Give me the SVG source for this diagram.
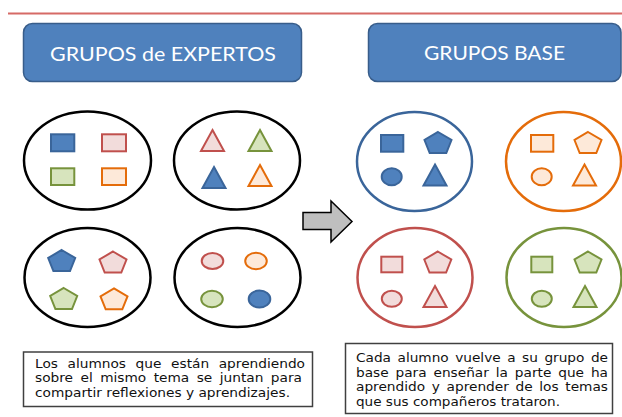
<svg xmlns="http://www.w3.org/2000/svg" xmlns:xlink="http://www.w3.org/1999/xlink" width="622" height="417" viewBox="0 0 622 417">
<style>
.hdr{fill:#4F81BD;stroke:#385D8A;stroke-width:1.5}
.hdrt{font-family:Lato,"Open Sans",sans-serif;font-size:20px;fill:#fff}
.grp{fill:none;stroke-width:2.5}
.blk{stroke:#000}
.sh{stroke-width:2}
.blue{fill:#4F81BD;stroke:#3A659A}
.pink{fill:#F2DCDB;stroke:#C0504D}
.green{fill:#D7E4BD;stroke:#77933C}
.orange{fill:#FDE9D9;stroke:#E46C0A}
.note{fill:#fff;stroke:#404040;stroke-width:1.5}
.nt{font-family:"DejaVu Sans",Verdana,sans-serif;font-size:12px;fill:#111}
</style>
<defs>
<polygon id="pent" points="0,-10.5 13.5,-2.5 8.3,10.5 -8.3,10.5 -13.5,-2.5"/>
<polygon id="tri" points="0,-10.5 11.5,10.5 -11.5,10.5"/>
</defs>
<rect width="622" height="417" fill="#fff"/>
<line x1="8" y1="13.5" x2="622" y2="13.5" stroke="#D66A66" stroke-width="2"/>

<g id="hdr-expertos">
<rect class="hdr" x="23.5" y="23.5" width="278" height="58" rx="9"/>
<text class="hdrt" x="50" y="61" textLength="226" lengthAdjust="spacingAndGlyphs">GRUPOS de EXPERTOS</text>
</g>
<g id="hdr-base">
<rect class="hdr" x="368.5" y="23.5" width="252.5" height="58" rx="9"/>
<text class="hdrt" x="424" y="60" textLength="141" lengthAdjust="spacingAndGlyphs">GRUPOS BASE</text>
</g>

<g id="exp-squares" class="sh">
<ellipse class="grp blk" cx="87.5" cy="160.5" rx="63.5" ry="49"/>
<rect class="blue" x="51" y="134.3" width="23.3" height="17"/>
<rect class="pink" x="102" y="134.3" width="24" height="17"/>
<rect class="green" x="51" y="168.3" width="23.3" height="16.7"/>
<rect class="orange" x="102" y="168.3" width="24" height="16.7"/>
</g>
<g id="exp-triangles" class="sh">
<ellipse class="grp blk" cx="237" cy="160.5" rx="63" ry="49"/>
<use xlink:href="#tri" x="212.5" y="140.5" class="pink"/>
<use xlink:href="#tri" x="260" y="140.5" class="green"/>
<use xlink:href="#tri" x="214" y="177.5" class="blue"/>
<use xlink:href="#tri" x="260" y="175.5" class="orange"/>
</g>
<g id="exp-pentagons" class="sh">
<ellipse class="grp blk" cx="87.5" cy="277.5" rx="63" ry="49.5"/>
<use xlink:href="#pent" x="61.7" y="260.5" class="blue"/>
<use xlink:href="#pent" x="113" y="262" class="pink"/>
<use xlink:href="#pent" x="63.7" y="298.5" class="green"/>
<use xlink:href="#pent" x="114" y="298.8" class="orange"/>
</g>
<g id="exp-circles" class="sh">
<ellipse class="grp blk" cx="237.5" cy="277.5" rx="63" ry="49.5"/>
<ellipse class="pink" cx="212.5" cy="261" rx="10.8" ry="8"/>
<ellipse class="orange" cx="256" cy="261" rx="10.8" ry="8.2"/>
<ellipse class="green" cx="212" cy="299" rx="10.8" ry="8.2"/>
<ellipse class="blue" cx="259.5" cy="299" rx="10.8" ry="8.5"/>
</g>

<g id="connectors">
<polygon points="303,212.5 331,212.5 331,201 352,221.5 331,242 331,229.5 303,229.5" fill="#BFBFBF" stroke="#000" stroke-width="1.5" stroke-linejoin="miter"/>
</g>

<g id="base-blue" class="sh">
<ellipse class="grp" stroke="#3A659A" stroke-width="2" cx="414.5" cy="161.5" rx="57.5" ry="49.5"/>
<rect class="blue" x="381" y="135" width="22.3" height="16.7"/>
<use xlink:href="#pent" x="438" y="142.5" class="blue"/>
<ellipse class="blue" cx="391.7" cy="176.7" rx="10" ry="8.5"/>
<use xlink:href="#tri" x="435" y="175" class="blue"/>
</g>
<g id="base-orange" class="sh">
<ellipse class="grp" stroke="#E46C0A" stroke-width="2" cx="563.5" cy="161.5" rx="57.5" ry="49.5"/>
<rect class="orange" x="531" y="135" width="22.3" height="16.7"/>
<use xlink:href="#pent" x="588" y="142.5" class="orange"/>
<ellipse class="orange" cx="541.7" cy="176.7" rx="10" ry="8.5"/>
<use xlink:href="#tri" x="584.5" y="175" class="orange"/>
</g>
<g id="base-red" class="sh">
<ellipse class="grp" stroke="#C0504D" stroke-width="2" cx="415" cy="277.5" rx="57.5" ry="49.5"/>
<rect class="pink" x="381.3" y="256.7" width="21" height="15.6"/>
<use xlink:href="#pent" x="437.8" y="262" class="pink"/>
<ellipse class="pink" cx="391.8" cy="298.8" rx="10" ry="8"/>
<use xlink:href="#tri" x="435" y="296.5" class="pink"/>
</g>
<g id="base-green" class="sh">
<ellipse class="grp" stroke="#77933C" stroke-width="2" cx="564" cy="277.5" rx="57.5" ry="49.5"/>
<rect class="green" x="531.3" y="256.7" width="21" height="15.6"/>
<use xlink:href="#pent" x="588" y="262" class="green"/>
<ellipse class="green" cx="541.8" cy="298.8" rx="10" ry="8"/>
<use xlink:href="#tri" x="585" y="296.5" class="green"/>
</g>

<g id="note-expertos">
<rect class="note" x="23.5" y="352" width="289" height="54.5"/>
<text class="nt" x="35" y="367.5" textLength="270" lengthAdjust="spacingAndGlyphs" word-spacing="4.6">Los alumnos que están aprendiendo</text>
<text class="nt" x="35" y="382" textLength="267" lengthAdjust="spacingAndGlyphs" word-spacing="2.7">sobre el mismo tema se juntan para</text>
<text class="nt" x="35" y="396.5" textLength="255" lengthAdjust="spacingAndGlyphs">compartir reflexiones y aprendizajes.</text>
</g>
<g id="note-base">
<rect class="note" x="345.5" y="343.5" width="267" height="70"/>
<text class="nt" x="356" y="362" textLength="252" lengthAdjust="spacingAndGlyphs" word-spacing="1.9">Cada alumno vuelve a su grupo de</text>
<text class="nt" x="356" y="376.7" textLength="252" lengthAdjust="spacingAndGlyphs" word-spacing="2.25">base para enseñar la parte que ha</text>
<text class="nt" x="356" y="391.4" textLength="252" lengthAdjust="spacingAndGlyphs" word-spacing="2">aprendido y aprender de los temas</text>
<text class="nt" x="356" y="406" textLength="204" lengthAdjust="spacingAndGlyphs">que sus compañeros trataron.</text>
</g>
</svg>
